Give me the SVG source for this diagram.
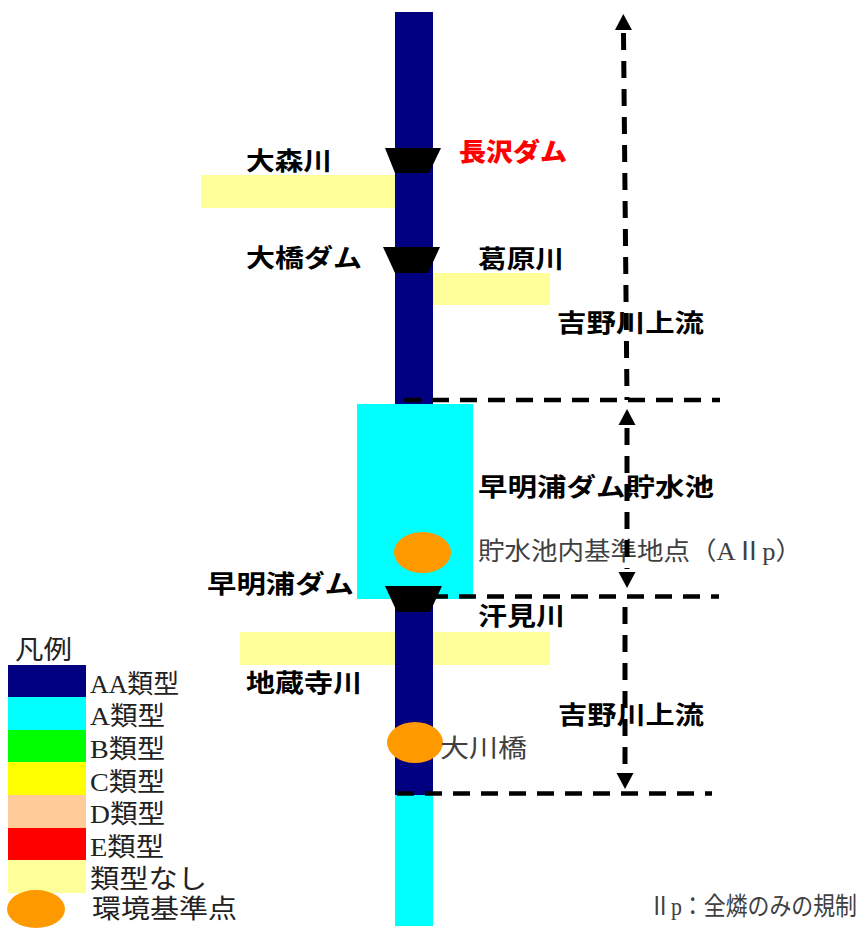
<svg xmlns="http://www.w3.org/2000/svg" width="865" height="928" viewBox="0 0 865 928">
<style>
.g{font-family:'Noto Sans CJK JP','Liberation Sans',sans-serif;font-size:25px;font-weight:bold;fill:#000}
.red{font-family:'Noto Sans CJK JP','Liberation Sans',sans-serif;font-size:25px;font-weight:900;fill:#ff0000}
.m{font-family:'Liberation Serif','Noto Sans CJK JP',serif;font-size:25px;fill:#404040}
.lg{font-family:'Liberation Serif','Noto Sans CJK JP',serif;font-size:26px;fill:#222}
.dh{stroke:#000;stroke-width:4.5;stroke-dasharray:17 11;fill:none}
.dv{stroke:#000;stroke-width:5;stroke-dasharray:17 11;fill:none}
.dam{fill:#000}
.pt{fill:#ff9900}
.trib{fill:#ffff99}
</style>
<defs>
<marker id="ah" viewBox="0 0 16 17" refX="-3" refY="8.5" markerWidth="16" markerHeight="17" markerUnits="userSpaceOnUse" orient="auto-start-reverse" overflow="visible">
<path d="M0,0 L16,8.5 L0,17 Z" fill="#000"/>
</marker>
</defs>
<rect width="865" height="928" fill="#fff"/>

<g id="river">
<rect x="395" y="12" width="38" height="783" fill="#000080"/>
<rect x="395" y="795" width="38" height="131" fill="#00ffff"/>
</g>
<g id="tributaries">
<rect id="omori" class="trib" x="201" y="175" width="194" height="33"/>
<rect id="kuzuhara" class="trib" x="433" y="273" width="117" height="32"/>
<rect id="jizoji" class="trib" x="240" y="632" width="155" height="33"/>
<rect id="kaemi" class="trib" x="433" y="632" width="117" height="33"/>
</g>
<g id="reservoir">
<rect x="357" y="404" width="116" height="195" fill="#00ffff"/>
</g>
<g id="dams">
<polygon id="dam-nagasawa" class="dam" points="385,148 441,148 429,173 395,173"/>
<polygon id="dam-ohashi" class="dam" points="383,247 440,247 428,273 395,273"/>
<polygon id="dam-sameura" class="dam" points="385,586 442,586 430,612 397,612"/>
</g>
<g id="points">
<ellipse id="pt-reservoir" class="pt" cx="422.5" cy="552.5" rx="28.5" ry="20.5"/>
<ellipse id="pt-okawa" class="pt" cx="415" cy="742.5" rx="28" ry="20.5"/>
</g>

<g id="labels">
<text class="g" x="246" y="170" textLength="86" lengthAdjust="spacingAndGlyphs">大森川</text>
<text class="red" x="459" y="161" textLength="108" lengthAdjust="spacingAndGlyphs">長沢ダム</text>
<text class="g" x="246" y="267" textLength="116" lengthAdjust="spacingAndGlyphs">大橋ダム</text>
<text class="g" x="478" y="268" textLength="86" lengthAdjust="spacingAndGlyphs">葛原川</text>
<text class="g" x="557" y="332" textLength="147" lengthAdjust="spacingAndGlyphs">吉野川上流</text>
<text class="g" x="478" y="496" textLength="236" lengthAdjust="spacingAndGlyphs">早明浦ダム貯水池</text>
<text class="m" x="478" y="560" textLength="324" lengthAdjust="spacingAndGlyphs">貯水池内基準地点（AⅡp）</text>
<text class="g" x="207" y="593" textLength="147" lengthAdjust="spacingAndGlyphs">早明浦ダム</text>
<text class="g" x="478" y="625" textLength="87" lengthAdjust="spacingAndGlyphs">汗見川</text>
<text class="g" x="246" y="692" textLength="116" lengthAdjust="spacingAndGlyphs">地蔵寺川</text>
<text class="g" x="558" y="724" textLength="146" lengthAdjust="spacingAndGlyphs">吉野川上流</text>
<text class="m" x="440" y="757" textLength="87" lengthAdjust="spacingAndGlyphs">大川橋</text>
<text class="m" x="649" y="915" font-size="19" textLength="208" lengthAdjust="spacingAndGlyphs">Ⅱp：全燐のみの規制</text>
</g>

<g id="connectors">
<line class="dh" x1="404" y1="400" x2="720" y2="400"/>
<line class="dh" x1="431" y1="596.5" x2="719" y2="596.5"/>
<line class="dh" x1="397" y1="793.5" x2="712" y2="793.5"/>
<line class="dv" x1="623.5" y1="33" x2="627" y2="400" marker-start="url(#ah)"/>
<line class="dv" x1="627" y1="428" x2="627" y2="569" marker-start="url(#ah)" marker-end="url(#ah)"/>
<line class="dv" x1="625" y1="607" x2="625" y2="770" marker-end="url(#ah)"/>
</g>

<g id="legend">
<text class="lg" x="15" y="659" textLength="57" lengthAdjust="spacingAndGlyphs">凡例</text>
<rect x="8" y="665" width="78" height="33" fill="#000080"/>
<rect x="8" y="697" width="78" height="33" fill="#00ffff"/>
<rect x="8" y="730" width="78" height="33" fill="#00ff00"/>
<rect x="8" y="762" width="78" height="33" fill="#ffff00"/>
<rect x="8" y="795" width="78" height="33" fill="#ffcc99"/>
<rect x="8" y="828" width="78" height="33" fill="#ff0000"/>
<rect x="8" y="860" width="78" height="33" fill="#ffff99"/>
<ellipse class="pt" cx="36" cy="909" rx="29" ry="19"/>
<text class="lg" x="90" y="693" textLength="89" lengthAdjust="spacingAndGlyphs">AA類型</text>
<text class="lg" x="90" y="725" textLength="75" lengthAdjust="spacingAndGlyphs">A類型</text>
<text class="lg" x="90" y="758" textLength="75" lengthAdjust="spacingAndGlyphs">B類型</text>
<text class="lg" x="90" y="791" textLength="75" lengthAdjust="spacingAndGlyphs">C類型</text>
<text class="lg" x="90" y="823" textLength="75" lengthAdjust="spacingAndGlyphs">D類型</text>
<text class="lg" x="90" y="856" textLength="74" lengthAdjust="spacingAndGlyphs">E類型</text>
<text class="lg" x="90" y="888" textLength="117" lengthAdjust="spacingAndGlyphs">類型なし</text>
<text class="lg" x="92" y="918" textLength="145" lengthAdjust="spacingAndGlyphs">環境基準点</text>
</g>
</svg>
